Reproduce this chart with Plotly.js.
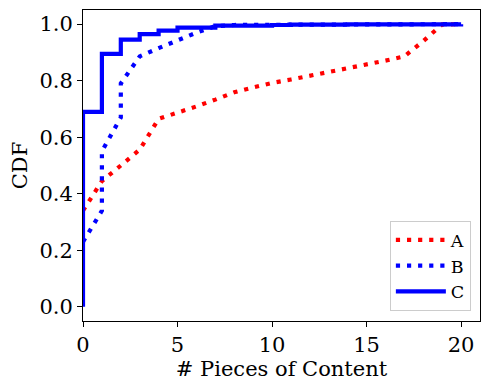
<!DOCTYPE html>
<html>
<head>
<meta charset="utf-8">
<script src="https://cdn.plot.ly/plotly-3.0.1.min.js"></script>
<style>
  html, body { margin: 0; padding: 0; background: #fff; }
  #plot { width: 490px; height: 390px; }
</style>
</head>
<body>
<div id="plot"></div>
<script>
// CDF points
var aX = [0, 1, 2, 3, 4, 5, 6, 7, 8, 9, 10, 11, 12, 13, 14, 15, 16, 17, 18, 19, 20];
var aY = [0.34, 0.445, 0.50, 0.556, 0.665, 0.686, 0.709, 0.733, 0.759, 0.776, 0.792, 0.804, 0.817, 0.833, 0.846, 0.859, 0.871, 0.886, 0.94, 0.999, 1.0];

var bX = [0, 1, 1, 2, 2, 3, 4, 5, 6, 7, 8, 11, 14, 20];
var bY = [0.23, 0.34, 0.55, 0.67, 0.79, 0.886, 0.915, 0.944, 0.97, 0.993, 0.997, 0.998, 0.999, 1.0];

var cX = [0, 0, 1, 2, 3, 4, 5, 7, 10, 11, 14, 20];
var cY = [0, 0.69, 0.895, 0.945, 0.965, 0.977, 0.988, 0.995, 0.997, 0.998, 0.999, 1.0];

var font = 'DejaVu Serif, serif';
var dotted = '4.2px,6.9px';

var traces = [
  { x: aX, y: aY, name: 'A', mode: 'lines', type: 'scatter',
    line: { color: '#ff0000', width: 4.2, dash: dotted } },
  { x: bX, y: bY, name: 'B', mode: 'lines', type: 'scatter',
    line: { color: '#0000ff', width: 4.2, dash: dotted } },
  { x: cX, y: cY, name: 'C', mode: 'lines', type: 'scatter',
    line: { color: '#0000ff', width: 4.2, shape: 'hv' } }
];

var axisStyle = {
  showline: true, mirror: true, linecolor: '#000', linewidth: 1,
  ticks: 'outside', ticklen: 5, tickwidth: 1, tickcolor: '#000',
  showgrid: false, zeroline: false,
  tickfont: { family: font, size: 21, color: '#000' }
};

var layout = {
  width: 490, height: 390,
  margin: { l: 83, r: 10, t: 10, b: 69 },
  paper_bgcolor: '#fff', plot_bgcolor: '#fff',
  font: { family: font, color: '#000' },
  showlegend: true,
  xaxis: Object.assign({}, axisStyle, {
    range: [0, 21], tickvals: [0, 5, 10, 15, 20],
    title: { text: '# Pieces of Content', font: { family: font, size: 21 }, standoff: 0 }
  }),
  yaxis: Object.assign({}, axisStyle, {
    range: [-0.05, 1.05], tickvals: [0, 0.2, 0.4, 0.6, 0.8, 1.0], tickformat: '.1f',
    title: { text: 'CDF', font: { family: font, size: 21 }, standoff: 6 }
  }),
  legend: {
    x: 0.977, y: 0.032, xanchor: 'right', yanchor: 'bottom',
    bgcolor: '#fff', bordercolor: '#cccccc', borderwidth: 1,
    itemwidth: 50,
    font: { family: font, size: 17.5, color: '#000' }
  }
};

Plotly.newPlot('plot', traces, layout, { displayModeBar: false, staticPlot: true });
</script>
</body>
</html>
